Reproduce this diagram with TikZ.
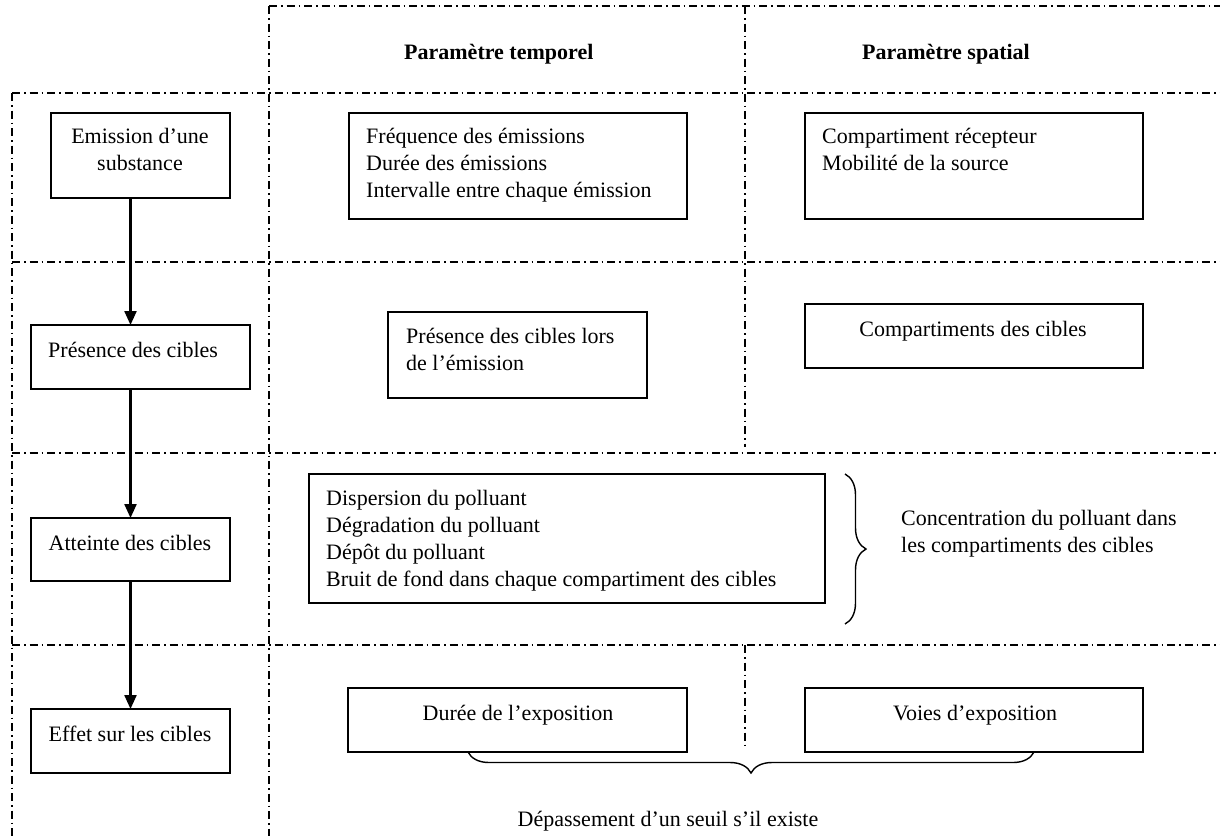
\documentclass[tikz,border=0pt]{standalone}
\usepackage{fontspec}
\setmainfont{Liberation Serif}
\usetikzlibrary{arrows.meta,decorations.pathreplacing}
\begin{document}
\begin{tikzpicture}[x=1pt,y=-1pt,
  grid/.style={line width=1.1pt,dash pattern=on 8pt off 4pt on 1.5pt off 4pt},
  box/.style={draw,line width=1.7pt,rectangle,inner sep=0pt,outer sep=0pt},
  txt/.style={inner sep=0pt,font=\fontsize{22}{27}\selectfont},
  blk/.style={txt,align=left,anchor=north west,execute at begin node=\strut},
  hdr/.style={inner sep=0pt,font=\fontsize{22}{27}\selectfont\bfseries,anchor=base west},
  flow/.style={line width=2.3pt,-{Triangle[length=14pt,width=12pt]}},
  brc/.style={line width=1.4pt,decorate,decoration={brace,amplitude=21pt}}]
\useasboundingbox (0,0) rectangle (1220,836);
% grid
\draw[grid] (269,6) -- (1220,6);
\draw[grid] (269,6) -- (269,836);
\draw[grid] (745,6) -- (745,447);
\draw[grid] (745,645) -- (745,748);
\draw[grid] (12,93) -- (1220,93);
\draw[grid] (12,93) -- (12,836);
\draw[grid] (12,262) -- (1220,262);
\draw[grid] (12,453) -- (1220,453);
\draw[grid] (12,645) -- (1220,645);
% headers
\node[hdr] (htemp) at (404,59) {Paramètre temporel};
\node[hdr] (hspat) at (862,59) {Paramètre spatial};
% boxes
\node[box,minimum width=179pt,minimum height=85pt] (emis) at (140.5,155.5) {};
\node[box,minimum width=219pt,minimum height=64pt] (pres) at (140.5,357) {};
\node[box,minimum width=199pt,minimum height=63pt] (att) at (130.5,549.5) {};
\node[box,minimum width=199pt,minimum height=64pt] (eff) at (130.5,741) {};
\node[box,minimum width=338pt,minimum height=106pt] (freq) at (518,166) {};
\node[box,minimum width=338pt,minimum height=106pt] (comp) at (974,166) {};
\node[box,minimum width=259pt,minimum height=86pt] (presl) at (517.5,355) {};
\node[box,minimum width=338pt,minimum height=64pt] (compc) at (974,336) {};
\node[box,minimum width=516pt,minimum height=129pt] (disp) at (567,538.5) {};
\node[box,minimum width=339pt,minimum height=64pt] (dur) at (517.5,720) {};
\node[box,minimum width=338pt,minimum height=64pt] (voies) at (974,720) {};
% texts
\node[txt,align=center,anchor=north,execute at begin node=\strut] (temis) at (140,128) {Emission d’une\\substance};
\node[txt,anchor=base west] (tpres) at (48,357.5) {Présence des cibles};
\node[txt,anchor=base] (tatt) at (130,550.5) {Atteinte des cibles};
\node[txt,anchor=base] (teff) at (130,741.5) {Effet sur les cibles};
\node[blk] (tfreq) at (366,128) {Fréquence des émissions\\Durée des émissions\\Intervalle entre chaque émission};
\node[blk] (tcomp) at (822,128) {Compartiment récepteur\\Mobilité de la source};
\node[blk] (tpresl) at (406,328) {Présence des cibles lors\\de l’émission};
\node[txt,anchor=base] (tcompc) at (973,336.5) {Compartiments des cibles};
\node[blk] (tdisp) at (326,490) {Dispersion du polluant\\Dégradation du polluant\\Dépôt du polluant\\Bruit de fond dans chaque compartiment des cibles};
\node[blk] (tconc) at (901,510) {Concentration du polluant dans\\les compartiments des cibles};
\node[txt,anchor=base] (tdur) at (518,720.5) {Durée de l’exposition};
\node[txt,anchor=base] (tvoies) at (975,720.5) {Voies d’exposition};
\node[txt,anchor=base] (tdep) at (668,826) {Dépassement d’un seuil s’il existe};
% flow arrows
\coordinate (ax) at (130.5,0);
\draw[flow] (emis.south -| ax) -- (pres.north -| ax);
\draw[flow] (pres.south -| ax) -- (att.north -| ax);
\draw[flow] (att.south -| ax) -- (eff.north -| ax);
% braces
\coordinate (b1s) at (845,474);
\coordinate (b1e) at (845,624);
\draw[brc] (b1s) -- (b1e);
\coordinate (b2s) at (1034,752);
\coordinate (b2e) at (468,752);
\draw[brc] (b2s) -- (b2e);
\end{tikzpicture}
\end{document}
